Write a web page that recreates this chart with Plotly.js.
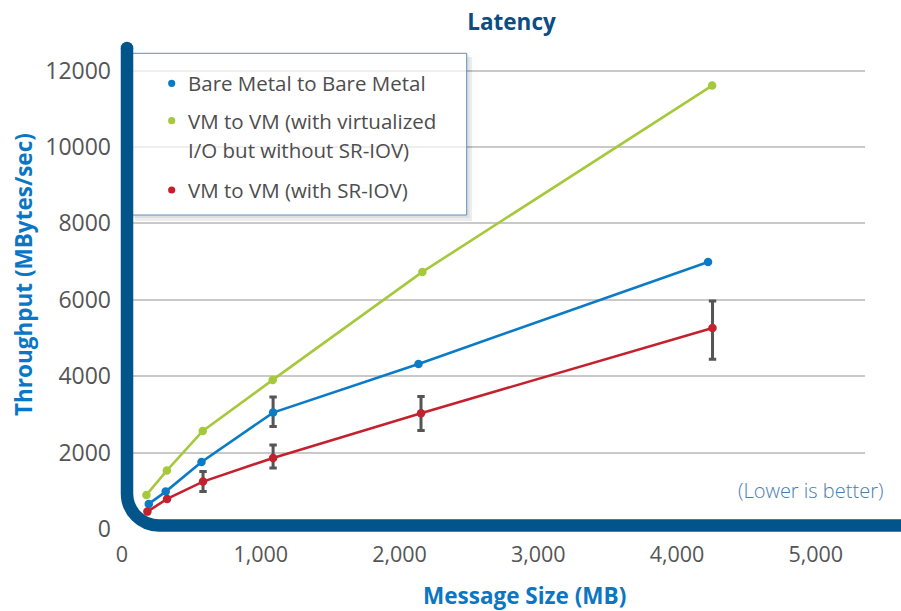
<!DOCTYPE html>
<html>
<head>
<meta charset="utf-8">
<script src="https://cdn.plot.ly/plotly-3.0.1.min.js"></script>
<style>html,body{margin:0;padding:0;background:#fff;}#chart{width:901px;height:611px;}</style>
</head>
<body>
<div id="chart"></div>
<script>
// ---- data ----
const seriesNames = ["Bare Metal to Bare Metal", "VM to VM (with virtualized", "I/O but without SR-IOV)", "VM to VM (with SR-IOV)"];

const sizeBare = [193, 315, 573, 1089, 2137, 4224];
const thrBare = [657, 979, 1754, 3047, 4322, 6992];
const errBarePlus = [null, null, null, 411, null, null];
const errBareMinus = [null, null, null, 366, null, null];

const sizeVirt = [176, 323, 582, 1086, 2165, 4253];
const thrVirt = [893, 1529, 2568, 3903, 6730, 11607];

const sizeSriov = [183, 325, 584, 1089, 2155, 4256];
const thrSriov = [455, 788, 1241, 1861, 3031, 5264];
const errSriovPlus = [null, null, 262, 341, 435, 707];
const errSriovMinus = [null, null, 262, 261, 455, 819];

const xTickVals = [0, 1000, 2000, 3000, 4000, 5000];
const yTickVals = [0, 2000, 4000, 6000, 8000, 10000, 12000];

// ---- layout geometry (pixels) ----
const L = 122, R = 865, T = 40, B = 529;
const XPX = 0.13875, YPX = 0.0382;
const px = x => (x - L) / (R - L);
const py = y => (B - y) / (B - T);
const nz = a => a.map(v => (v === null ? NaN : v));

const cBlue = '#0b7bc6', cGreen = '#a6c83b', cRed = '#c4212e';
const cBar = '#01558b';
const FONT = '"Open Sans", "Noto Sans", sans-serif';

const traces = [
  {x: sizeVirt, y: thrVirt, type: 'scatter', mode: 'lines+markers', name: 'VM to VM (with virtualized I/O but without SR-IOV)',
   line: {color: cGreen, width: 2.6}, marker: {color: cGreen, size: 8.5}, showlegend: false, hoverinfo: 'x+y'},
  {x: sizeBare, y: thrBare, type: 'scatter', mode: 'lines+markers', name: seriesNames[0],
   line: {color: cBlue, width: 2.6}, marker: {color: cBlue, size: 8.5}, showlegend: false,
   error_y: {type: 'data', symmetric: false, array: nz(errBarePlus), arrayminus: nz(errBareMinus), color: '#555555', thickness: 3, width: 3.7}},
  {x: sizeSriov, y: thrSriov, type: 'scatter', mode: 'lines+markers', name: seriesNames[3],
   line: {color: cRed, width: 2.6}, marker: {color: cRed, size: 8.5}, showlegend: false,
   error_y: {type: 'data', symmetric: false, array: nz(errSriovPlus), arrayminus: nz(errSriovMinus), color: '#555555', thickness: 3, width: 3.7}}
];

const shapes = [];
// legend shadow
shapes.push({type: 'rect', xref: 'paper', yref: 'paper', layer: 'above', x0: px(466.7), x1: px(472), y0: py(221), y1: py(57), fillcolor: 'rgba(0,0,0,0.07)', line: {width: 0}});
shapes.push({type: 'rect', xref: 'paper', yref: 'paper', layer: 'above', x0: px(135), x1: px(466.7), y0: py(221), y1: py(215), fillcolor: 'rgba(0,0,0,0.07)', line: {width: 0}});
shapes.push({type: 'rect', xref: 'paper', yref: 'paper', layer: 'above', x0: px(466.7), x1: px(469.5), y0: py(218), y1: py(55), fillcolor: 'rgba(0,0,0,0.06)', line: {width: 0}});
shapes.push({type: 'rect', xref: 'paper', yref: 'paper', layer: 'above', x0: px(133), x1: px(466.7), y0: py(218), y1: py(215), fillcolor: 'rgba(0,0,0,0.06)', line: {width: 0}});
// legend box
shapes.push({type: 'rect', xref: 'paper', yref: 'paper', layer: 'above', x0: px(131.7), x1: px(466.7), y0: py(215), y1: py(53.3), fillcolor: 'rgba(255,255,255,0.7)', line: {color: '#5b8fc0', width: 1}});
// legend dots
const dotY = [83.3, 120.7, 190];
const dotC = [cBlue, cGreen, cRed];
dotY.forEach((yy, i) => {
  shapes.push({type: 'circle', xref: 'paper', yref: 'paper', layer: 'above', x0: px(171.7 - 3.6), x1: px(171.7 + 3.6), y0: py(yy + 3.6), y1: py(yy - 3.6), fillcolor: dotC[i], line: {width: 0}});
});
// thick rounded axis
const r = 32;
const bx = 127, by = 525.5;
const k = 0.552 * r;
shapes.push({type: 'path', xref: 'paper', yref: 'paper', layer: 'above',
  path: `M ${px(bx)},${py(48)} L ${px(bx)},${py(by - r)} C ${px(bx)},${py(by - r + k)} ${px(bx + r - k)},${py(by)} ${px(bx + r)},${py(by)} L ${px(908)},${py(by)}`,
  line: {color: cBar, width: 12.5}, fillcolor: 'rgba(0,0,0,0)'});
shapes.push({type: 'circle', xref: 'paper', yref: 'paper', layer: 'above', x0: px(bx - 6.25), x1: px(bx + 6.25), y0: py(48 + 6.25), y1: py(48 - 6.25), fillcolor: cBar, line: {width: 0}});

const legFont = {family: FONT, size: 20.5, color: '#4d4d4d'};
const textLines = [
  {t: seriesNames[0], y: 82.5},
  {t: seriesNames[1], y: 121},
  {t: seriesNames[2], y: 150},
  {t: seriesNames[3], y: 190}
];
const annotations = textLines.map(o => ({xref: 'paper', yref: 'paper', x: px(186), y: py(o.y), xanchor: 'left', yanchor: 'middle', text: o.t, showarrow: false, font: legFont}));
annotations.push({xref: 'paper', yref: 'paper', x: px(810), y: py(490), xanchor: 'center', yanchor: 'middle', text: '(Lower is better)', showarrow: false, font: {family: FONT, size: 20, color: '#4a7db0', weight: 300}});
annotations.push({xref: 'paper', yref: 'paper', x: px(524.5), y: py(595), xanchor: 'center', yanchor: 'middle', text: 'Message Size (MB)', showarrow: false, borderpad: 0, font: {family: FONT, size: 22.5, color: '#0a76c4', weight: 700}});
annotations.push({xref: 'paper', yref: 'paper', x: px(23), y: py(274), xanchor: 'center', yanchor: 'middle', textangle: -90, text: 'Throughput (MBytes/sec)', showarrow: false, font: {family: FONT, size: 22.5, color: '#0a76c4', weight: 700}});

const layout = {
  width: 901, height: 611,
  margin: {l: L, r: 901 - R, t: T, b: 611 - B, pad: 0},
  paper_bgcolor: '#ffffff', plot_bgcolor: '#ffffff',
  showlegend: false,
  title: {text: 'Latency', xref: 'container', yref: 'container', x: 511.5 / 901, y: 1 - 22.5 / 611, xanchor: 'center', yanchor: 'middle',
          font: {family: FONT, size: 22.5, color: '#0b4d84', weight: 700}},
  xaxis: {range: [0, (R - L) / XPX], tickvals: xTickVals, tickformat: ',d', showgrid: false, zeroline: false, showline: false,
          ticks: '', ticklabelstandoff: 10, tickfont: {family: FONT, size: 21.5, color: '#555555'}, fixedrange: true},
  yaxis: {range: [0, (B - T) / YPX], tickvals: yTickVals, tickformat: 'd', showgrid: true, gridcolor: '#c9c9c9', gridwidth: 2, zeroline: false, showline: false,
          ticks: '', ticklabelstandoff: 10, tickfont: {family: FONT, size: 23, color: '#555555'}, fixedrange: true},
  shapes: shapes,
  annotations: annotations
};

Plotly.newPlot('chart', traces, layout, {displayModeBar: false, staticPlot: true});
</script>
</body>
</html>
